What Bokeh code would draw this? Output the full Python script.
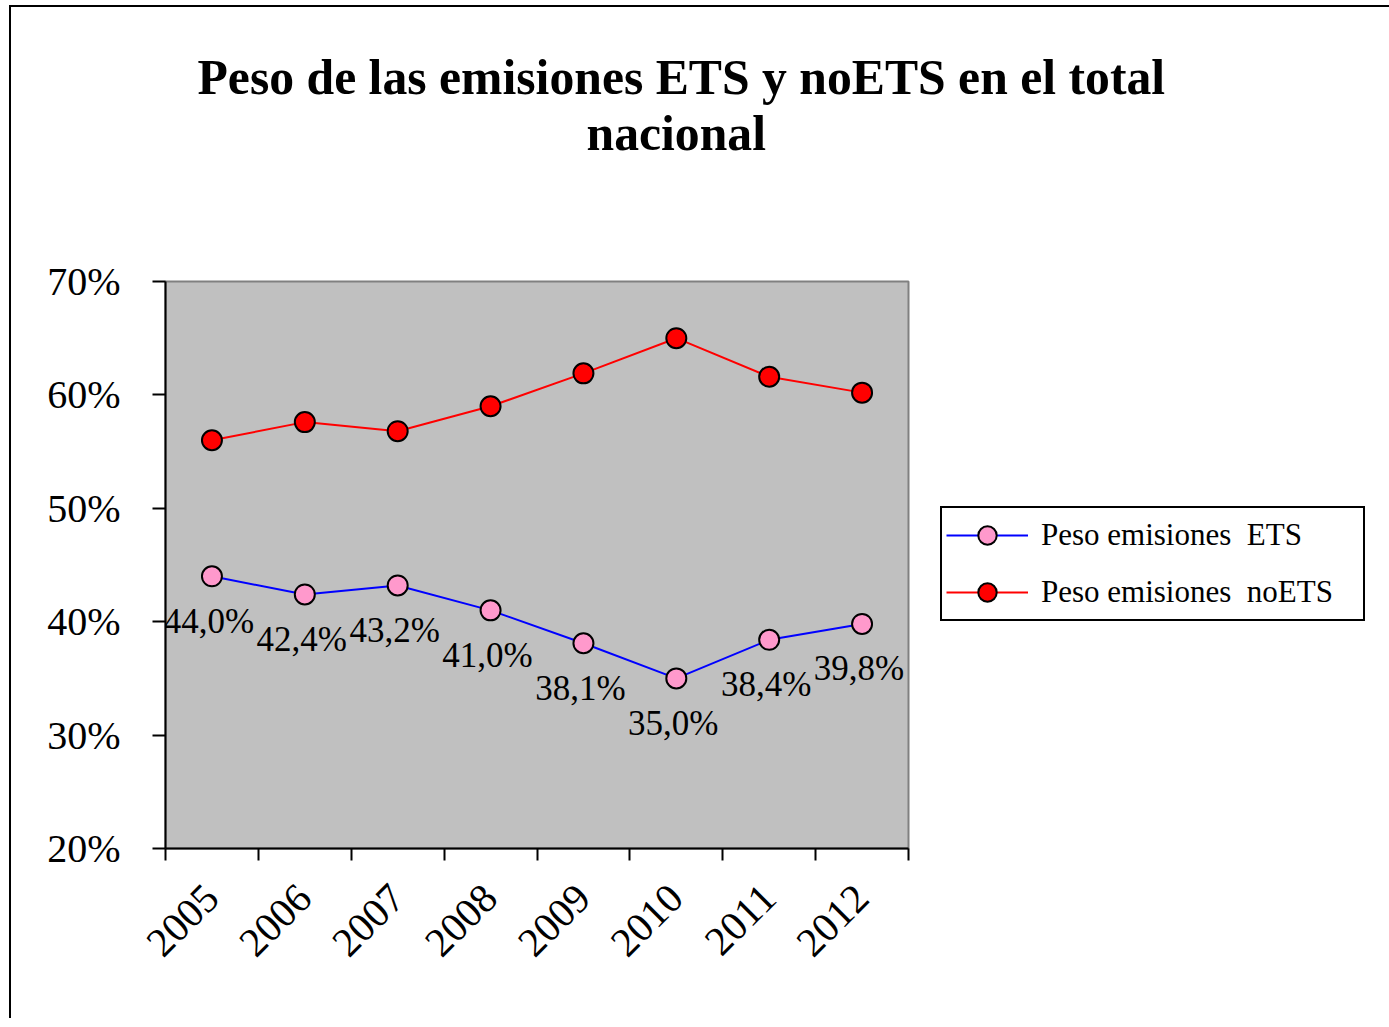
from bokeh.plotting import figure
from bokeh.models import (FixedTicker, PrintfTickFormatter, Title, Legend,
                          LegendItem, Range1d, ColumnDataSource)
from bokeh.core.properties import value
from bokeh.embed import file_html
from bokeh.resources import INLINE

# ---------------- data ----------------
years = ["2005", "2006", "2007", "2008", "2009", "2010", "2011", "2012"]
ets = [44.0, 42.4, 43.2, 41.0, 38.1, 35.0, 38.4, 39.8]
noets = [56.0, 57.6, 56.8, 59.0, 61.9, 65.0, 61.6, 60.2]
y_ticks = [20, 30, 40, 50, 60, 70]
series_names = ["Peso emisiones  ETS", "Peso emisiones  noETS"]
title_lines = ["Peso de las emisiones ETS y noETS en el total", "nacional"]

FONT = "Liberation Serif"

n = len(years)
xc = [i + 0.5 for i in range(n)]            # category centres
bounds = [i for i in range(n + 1)]          # category boundaries
ets_labels = [("%.1f%%" % v).replace(".", ",") for v in ets]

src_ets = ColumnDataSource(dict(x=xc, y=ets, lab=ets_labels))
src_no = ColumnDataSource(dict(x=xc, y=noets))

p = figure(frame_width=743, frame_height=567,
           x_range=Range1d(0, n), y_range=Range1d(y_ticks[0], y_ticks[-1]),
           output_backend="svg", toolbar_location=None, title=None,
           min_border_left=154, min_border_right=476,
           min_border_top=274, min_border_bottom=170,
           background_fill_color="#C0C0C0", border_fill_color="white")
p.styles = {"border-left": "2px solid black", "border-top": "2px solid black",
            "border-right": "2px solid black",
            "margin-left": "9px", "margin-top": "5px"}

p.outline_line_color = "#808080"
p.outline_line_width = 2
p.xgrid.visible = False
p.ygrid.visible = False

# y axis
p.yaxis.ticker = FixedTicker(ticks=y_ticks)
p.yaxis.formatter = PrintfTickFormatter(format="%d%%")
p.yaxis.axis_line_color = "black"
p.yaxis.axis_line_width = 2
p.yaxis.major_tick_line_color = "black"
p.yaxis.major_tick_line_width = 2
p.yaxis.major_tick_out = 13
p.yaxis.major_tick_in = 0
p.yaxis.minor_tick_line_color = None
p.yaxis.major_label_standoff = 32
p.yaxis.major_label_text_font = FONT
p.yaxis.major_label_text_font_size = "40px"
p.yaxis.major_label_text_color = "black"

# x axis
p.xaxis.ticker = FixedTicker(ticks=xc, minor_ticks=bounds)
p.xaxis.major_label_overrides = {x: y for x, y in zip(xc, years)}
p.xaxis.axis_line_color = "black"
p.xaxis.axis_line_width = 2
p.xaxis.major_tick_line_color = None
p.xaxis.major_tick_out = 12
p.xaxis.major_tick_in = 0
p.xaxis.minor_tick_line_color = "black"
p.xaxis.minor_tick_line_width = 2
p.xaxis.minor_tick_out = 12
p.xaxis.minor_tick_in = 0
p.xaxis.major_label_orientation = 0.785398
p.xaxis.major_label_standoff = 31
p.xaxis.major_label_text_font = FONT
p.xaxis.major_label_text_font_size = "41px"
p.xaxis.major_label_text_color = "black"

# series
l1 = p.line("x", "y", source=src_ets, line_color="#0000FF", line_width=2)
l2 = p.line("x", "y", source=src_no, line_color="#FF0000", line_width=2)
m1 = p.scatter("x", "y", source=src_ets, size=20, fill_color="#FF99CC",
               line_color="black", line_width=2)
m2 = p.scatter("x", "y", source=src_no, size=20, fill_color="#FF0000",
               line_color="black", line_width=2)

p.text("x", "y", text="lab", source=src_ets, text_align="center",
       text_baseline="middle", x_offset=-3, y_offset=45,
       text_font=value(FONT), text_font_size="35px", text_color="black")

legend = Legend(items=[LegendItem(label=series_names[0], renderers=[l1, m1]),
                       LegendItem(label=series_names[1], renderers=[l2, m2])],
                location=(32, 227), margin=0, padding=4, spacing=11,
                glyph_width=82, glyph_height=46, label_standoff=13,
                label_width=318,
                label_text_font=FONT, label_text_font_size="31px",
                label_text_color="black",
                border_line_color="black", border_line_width=2,
                border_line_alpha=1.0,
                background_fill_color="white", background_fill_alpha=1.0)
p.add_layout(legend, "right")

# titles: a blank spacer sits next to the plot area, then the two title lines
title_kw = dict(text_font=FONT, text_font_size="49.7px",
                text_font_style="bold", text_color="black", align="left")
spacer = Title(text=" ", standoff=64, offset=0, **title_kw)
t2 = Title(text=title_lines[1], standoff=0, offset=421, **title_kw)
t1 = Title(text=title_lines[0], standoff=-2, offset=32, **title_kw)
p.add_layout(spacer, "above")
p.add_layout(t2, "above")
p.add_layout(t1, "above")

open("out.html", "w").write(file_html(p, INLINE))
